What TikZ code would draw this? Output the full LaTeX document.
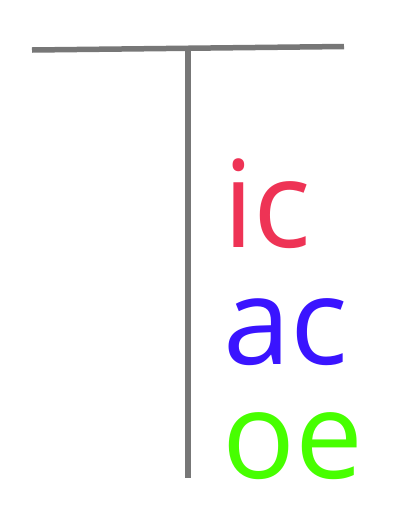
\documentclass[tikz,border=0pt]{standalone}
\usepackage{fontspec}
\setmainfont{Open Sans}
\definecolor{lgray}{HTML}{777777}
\definecolor{cred}{HTML}{EE3355}
\definecolor{cblue}{HTML}{3A14FF}
\definecolor{cgreen}{HTML}{47FF00}
\begin{document}
\begin{tikzpicture}[x=1pt,y=-1pt,
  bar/.style={draw=lgray,line width=5.5pt},
  lbl/.style={anchor=base west,inner sep=0pt,font=\fontsize{121}{121}\selectfont}]
\useasboundingbox (0,0) rectangle (418,523);
\coordinate (hl) at (32,50);
\coordinate (hr) at (344,46.5);
\coordinate (vt) at (188,48);
\coordinate (vb) at (188,478);
\draw[bar] (hl) -- (hr);
\draw[bar] (vt) -- (vb);
\node[lbl,text=cred] (ic) at (223,247) {ic};
\node[lbl,text=cblue] (ac) at (223,364) {ac};
\node[lbl,text=cgreen] (oe) at (222,478) {oe};
\end{tikzpicture}
\end{document}
